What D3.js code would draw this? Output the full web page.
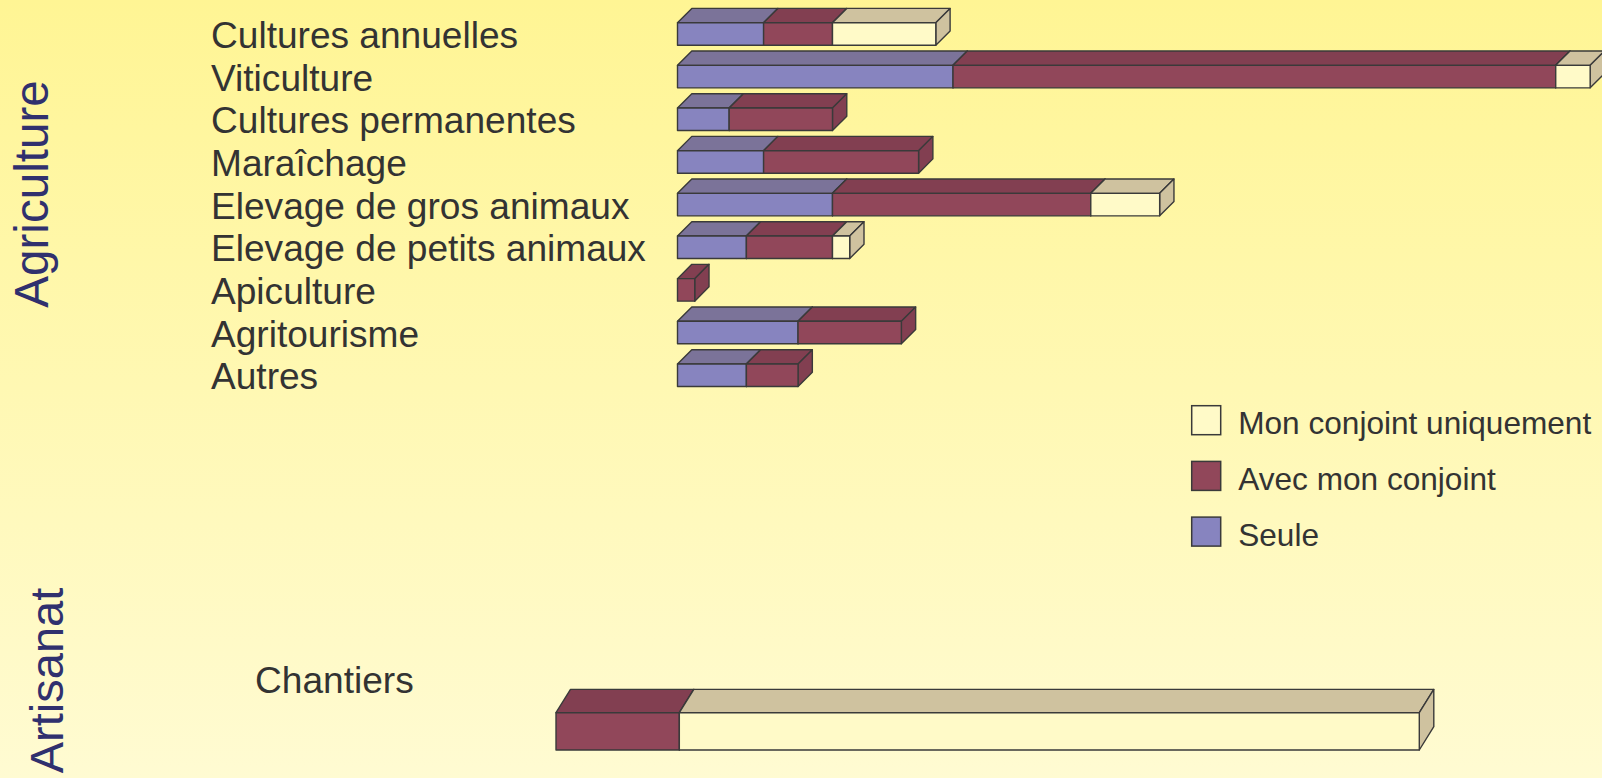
<!DOCTYPE html>
<html>
<head>
<meta charset="utf-8">
<script src="https://cdn.jsdelivr.net/npm/d3@7"></script>
<style>
  html, body { margin: 0; padding: 0; overflow: hidden; }
  svg { display: block; font-family: "Liberation Sans", Arial, Helvetica, sans-serif; }
</style>
</head>
<body>
<div id="chart"></div>
<script>
// Agriculture categories and counts per series
const categories = ['Cultures annuelles', 'Viticulture', 'Cultures permanentes', 'Maraîchage',
  'Elevage de gros animaux', 'Elevage de petits animaux', 'Apiculture', 'Agritourisme', 'Autres'];
const seule    = [5, 16, 3, 5, 9, 4, 0, 7, 4];
const avec     = [4, 35, 6, 9, 15, 5, 1, 6, 3];
const conjoint = [6, 2, 0, 0, 4, 1, 0, 0, 0];

// Artisanat
const artCategories = ['Chantiers'];
const artSeule    = [0];
const artAvec     = [1];
const artConjoint = [6];

const seriesNames = ['Seule', 'Avec mon conjoint', 'Mon conjoint uniquement'];
const legendOrder = ['Mon conjoint uniquement', 'Avec mon conjoint', 'Seule'];

const width = 1602, height = 778;

const colors = {
  'Seule':                   { front: '#8784bf', top: '#7b7399' },
  'Avec mon conjoint':       { front: '#91475a', top: '#823f51' },
  'Mon conjoint uniquement': { front: '#fffac8', top: '#cfc29f' }
};
const strokeCol = '#3a3a3a';

const svg = d3.select('#chart').append('svg')
  .attr('width', width)
  .attr('height', height);

const defs = svg.append('defs');
const grad = defs.append('linearGradient')
  .attr('id', 'bg').attr('x1', 0).attr('y1', 0).attr('x2', 0).attr('y2', 1);
grad.append('stop').attr('offset', '0%').attr('stop-color', '#fff594');
grad.append('stop').attr('offset', '100%').attr('stop-color', '#fffbd2');

svg.append('rect').attr('width', width).attr('height', height).attr('fill', 'url(#bg)');

// stack values into segments
function stackRows(cats, s1, s2, s3) {
  const out = [];
  cats.forEach((c, i) => {
    let acc = 0;
    [s1[i], s2[i], s3[i]].forEach((v, k) => {
      if (v > 0) out.push({ cat: c, series: seriesNames[k], x0: acc, x1: acc + v });
      acc += v;
    });
  });
  return out;
}

// draws 3d boxes, left to right so later faces hide the earlier sides
function drawBoxes(g, segs, x, y, dx, dy) {
  const h = y.bandwidth();
  segs.forEach(d => {
    const xa = x(d.x0), xb = x(d.x1), yt = y(d.cat);
    const c = colors[d.series];
    const box = g.append('g')
      .attr('stroke', strokeCol)
      .attr('stroke-width', 1.4)
      .attr('stroke-linejoin', 'round');
    box.append('polygon')
      .attr('points', [[xa, yt], [xa + dx, yt - dy], [xb + dx, yt - dy], [xb, yt]].join(' '))
      .attr('fill', c.top);
    box.append('polygon')
      .attr('points', [[xb, yt], [xb + dx, yt - dy], [xb + dx, yt + h - dy], [xb, yt + h]].join(' '))
      .attr('fill', c.top);
    box.append('rect')
      .attr('x', xa).attr('y', yt)
      .attr('width', xb - xa).attr('height', h)
      .attr('fill', c.front);
  });
}

// ---- Agriculture ----
const rowStep = 42.66;
const bandH = 22.5;
const yAgri = d3.scaleBand()
  .domain(categories)
  .range([22.7, 22.7 + (categories.length - 1) * rowStep + bandH])
  .paddingInner(1 - bandH / rowStep)
  .paddingOuter(0);

const xAgri = d3.scaleLinear()
  .domain([0, 53])
  .range([677.5, 677.5 + 53 * 17.22]);

const agri = svg.append('g');
drawBoxes(agri, stackRows(categories, seule, avec, conjoint), xAgri, yAgri, 14.3, 14.3);

svg.append('g').selectAll('text')
  .data(categories)
  .join('text')
  .attr('x', 211)
  .attr('y', d => yAgri(d) + bandH + 2.8)
  .attr('fill', '#333333')
  .style('font-size', '37.1px')
  .text(d => d);

// ---- Artisanat ----
const artH = 37.3;
const yArt = d3.scaleBand()
  .domain(artCategories)
  .range([712.7, 712.7 + artH]);

const xArt = d3.scaleLinear()
  .domain([0, 7])
  .range([556, 1419.3]);

drawBoxes(svg.append('g'), stackRows(artCategories, artSeule, artAvec, artConjoint), xArt, yArt, 14.5, 23.3);

svg.append('text')
  .attr('x', 255)
  .attr('y', 693.3)
  .attr('fill', '#333333')
  .style('font-size', '37.1px')
  .text(artCategories[0]);

// group titles
svg.append('text')
  .attr('transform', 'translate(48,194) rotate(-90)')
  .attr('text-anchor', 'middle')
  .attr('fill', '#30306e')
  .style('font-size', '47.6px')
  .text('Agriculture');

svg.append('text')
  .attr('transform', 'translate(63,680.5) rotate(-90)')
  .attr('text-anchor', 'middle')
  .attr('fill', '#30306e')
  .style('font-size', '47px')
  .text('Artisanat');

// legend
const legend = svg.append('g').attr('transform', 'translate(1191.7,405.7)');
const legItems = legend.selectAll('g')
  .data(legendOrder)
  .join('g')
  .attr('transform', (d, i) => `translate(0,${i * 55.7})`);

legItems.append('rect')
  .attr('width', 29).attr('height', 29)
  .attr('fill', d => colors[d].front)
  .attr('stroke', strokeCol)
  .attr('stroke-width', 1.5);

legItems.append('text')
  .attr('x', 46.5)
  .attr('y', 28.6)
  .attr('fill', '#333333')
  .style('font-size', '31.6px')
  .text(d => d);
</script>
</body>
</html>
